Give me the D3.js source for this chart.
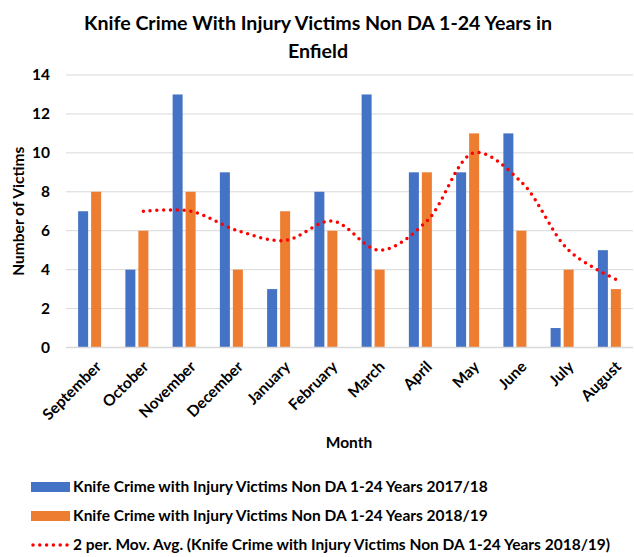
<!DOCTYPE html>
<html>
<head>
<meta charset="utf-8">
<script src="https://cdn.jsdelivr.net/npm/d3@7"></script>
<style>
  body { margin: 0; background: #fff; }
  svg { display: block; }
  text { font-family: Lato, "Open Sans", sans-serif; font-weight: bold; fill: #000; }
</style>
</head>
<body>
<svg id="chart" width="634" height="557"></svg>
<script>
// ---------- data ----------
let months = ['September', 'October', 'November', 'December', 'January', 'February',
  'March', 'April', 'May', 'June', 'July', 'August']
let victims1718 = [7, 4, 13, 9, 3, 8, 13, 9, 9, 11, 1, 5]
let victims1819 = [8, 6, 8, 4, 7, 6, 4, 9, 11, 6, 4, 3]
// 2 period moving average of 2018/19, starts at October
let movAvg = [null, 7, 7, 6, 5.5, 6.5, 5, 6.5, 10, 8.5, 5, 3.5]
let yTicks = [0, 2, 4, 6, 8, 10, 12, 14]

let seriesNames = [
  'Knife Crime with Injury Victims Non DA 1-24 Years 2017/18',
  'Knife Crime with Injury Victims Non DA 1-24 Years 2018/19'
]
let avgName = '2 per. Mov. Avg. (Knife Crime with Injury Victims Non DA 1-24 Years 2018/19)'
let colors = ['#4472C4', '#ED7D31']

// ---------- layout ----------
let pLeft = 66, pRight = 633, pTop = 75, pBottom = 347.5
let fs = '15.5px'

let svg = d3.select('#chart')

let x = d3.scaleBand()
  .domain(months)
  .range([pLeft, pRight])
  .paddingInner(0.513)
  .paddingOuter(0.2565)

let xs = d3.scaleBand()
  .domain([0, 1])
  .range([0, x.bandwidth()])
  .paddingInner(0.23)

let y = d3.scaleLinear()
  .domain([0, 14])
  .range([pBottom, pTop])

// title
let title = svg.append('text')
  .attr('text-anchor', 'middle')
  .attr('font-size', '19.6px')
title.append('tspan').attr('x', 318).attr('y', 30)
  .text('Knife Crime With Injury Victims Non DA 1-24 Years in')
title.append('tspan').attr('x', 318).attr('y', 58)
  .text('Enfield')

// gridlines
svg.append('g')
  .selectAll('line').data(yTicks.filter(d => d > 0))
  .enter().append('line')
  .attr('x1', pLeft).attr('x2', pRight)
  .attr('y1', d => y(d)).attr('y2', d => y(d))
  .attr('stroke', '#d9d9d9')
  .attr('stroke-width', 1)

// y axis labels
svg.append('g')
  .selectAll('text').data(yTicks)
  .enter().append('text')
  .attr('x', 50)
  .attr('y', d => y(d))
  .attr('dy', '0.35em')
  .attr('text-anchor', 'end')
  .attr('font-size', fs)
  .text(d => d)

svg.append('text')
  .attr('transform', `translate(24, ${(pTop + pBottom) / 2}) rotate(-90)`)
  .attr('text-anchor', 'middle')
  .attr('font-size', fs)
  .text('Number of Victims')

// bars
let series = [victims1718, victims1819]
series.forEach((vals, s) => {
  svg.append('g')
    .selectAll('rect').data(vals)
    .enter().append('rect')
    .attr('x', (d, i) => x(months[i]) + xs(s))
    .attr('y', d => y(d))
    .attr('width', xs.bandwidth())
    .attr('height', d => pBottom - y(d))
    .attr('fill', colors[s])
})

// axis baseline
svg.append('line')
  .attr('x1', pLeft).attr('x2', pRight)
  .attr('y1', pBottom).attr('y2', pBottom)
  .attr('stroke', '#d9d9d9')
  .attr('stroke-width', 1.5)

// x labels
svg.append('g')
  .selectAll('text').data(months)
  .enter().append('text')
  .attr('transform', d => `translate(${x(d) + x.bandwidth() / 2 + 5}, 360) rotate(-45)`)
  .attr('text-anchor', 'end')
  .attr('dy', '0.7em')
  .attr('font-size', fs)
  .text(d => d)

svg.append('text')
  .attr('x', 349)
  .attr('y', 447.5)
  .attr('text-anchor', 'middle')
  .attr('font-size', fs)
  .text('Month')

// moving average line, at the 2018/19 bar positions
let avgPts = movAvg.map((v, i) => ({ m: months[i], v: v })).filter(d => d.v !== null)
let line = d3.line()
  .x(d => x(d.m) + xs(1) + xs.bandwidth() / 2)
  .y(d => y(d.v))
  .curve(d3.curveCatmullRom)

svg.append('path')
  .attr('d', line(avgPts))
  .attr('fill', 'none')
  .attr('stroke', '#FF0000')
  .attr('stroke-width', 3.5)
  .attr('stroke-linecap', 'round')
  .attr('stroke-dasharray', '0 6.8')

// legend
let legY = [487, 516, 545]
seriesNames.forEach((name, i) => {
  svg.append('rect')
    .attr('x', 31).attr('y', legY[i] - 5)
    .attr('width', 39).attr('height', 10)
    .attr('fill', colors[i])
  svg.append('text')
    .attr('x', 73).attr('y', legY[i])
    .attr('dy', '0.35em')
    .attr('font-size', fs)
    .text(name)
})
svg.append('line')
  .attr('x1', 33).attr('x2', 70)
  .attr('y1', legY[2]).attr('y2', legY[2])
  .attr('stroke', '#FF0000')
  .attr('stroke-width', 3.5)
  .attr('stroke-linecap', 'round')
  .attr('stroke-dasharray', '0 6.8')
svg.append('text')
  .attr('x', 73).attr('y', legY[2])
  .attr('dy', '0.35em')
  .attr('font-size', fs)
  .text(avgName)
</script>
</body>
</html>
